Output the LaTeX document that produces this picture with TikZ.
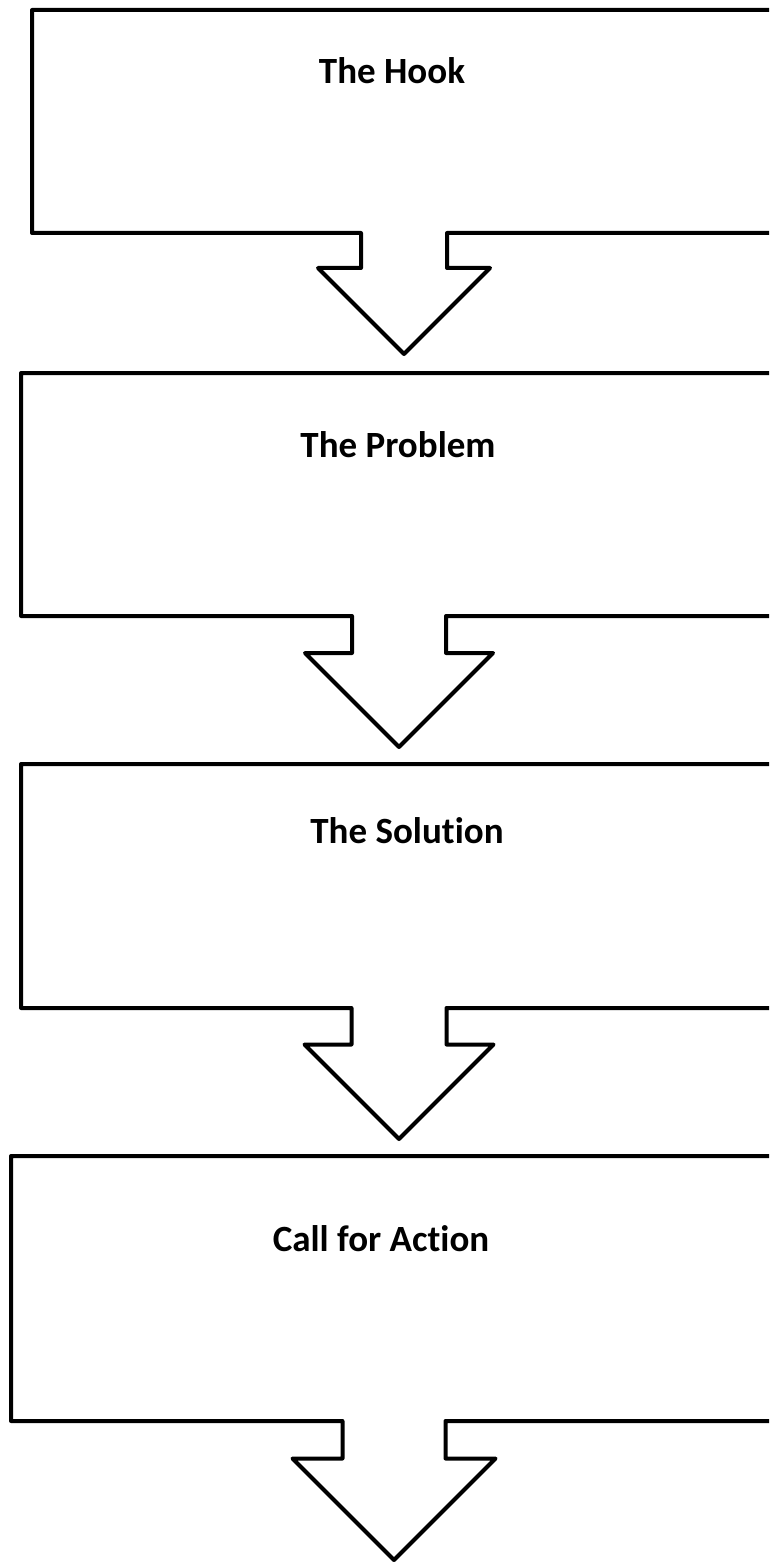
\documentclass[tikz,border=0pt]{standalone}
\usepackage{fontspec}
\setmainfont[Ligatures=NoCommon]{Carlito}
\usetikzlibrary{shapes.arrows}

\tikzset{
    stagebox/.style={draw=black, line width=4pt, line join=round, arrow box,
        inner sep=0pt, outer sep=0pt, arrow box tip angle=90, arrow box head indent=0pt},
    stagetext/.style={anchor=base, inner sep=0pt, font=\fontsize{37}{40}\selectfont\bfseries}
}

\begin{document}
\begin{tikzpicture}[x=1pt, y=-1pt]
            \useasboundingbox (0,0) rectangle (769,1562);
            \clip (0,0) rectangle (769,1562);
            % the four stages
            \node[stagebox, minimum width=744pt, minimum height=223pt, arrow box shaft width=86pt,
                arrow box head extend=43pt, arrow box arrows={south:121pt from border}] (hook) at (404,121.5) {};
            \node[stagebox, minimum width=756pt, minimum height=243pt, arrow box shaft width=94pt,
                arrow box head extend=47pt, arrow box arrows={south:131pt from border}] (problem) at (399,494.5) {};
            \node[stagebox, minimum width=756pt, minimum height=244pt, arrow box shaft width=95pt,
                arrow box head extend=47pt, arrow box arrows={south:131pt from border}] (solution) at (399,886) {};
            \node[stagebox, minimum width=766pt, minimum height=265pt, arrow box shaft width=103pt,
                arrow box head extend=50pt, arrow box arrows={south:139pt from border}] (action) at (394,1288.5) {};
            % titles
            \node[stagetext] (hooktitle) at (392,84) {The Hook};
            \node[stagetext] (problemtitle) at (398,457) {The Problem};
            \node[stagetext] (solutiontitle) at (407,843) {The Solution};
            \node[stagetext] (actiontitle) at (381,1251) {Call for Action};
        \end{tikzpicture}
\end{document}
